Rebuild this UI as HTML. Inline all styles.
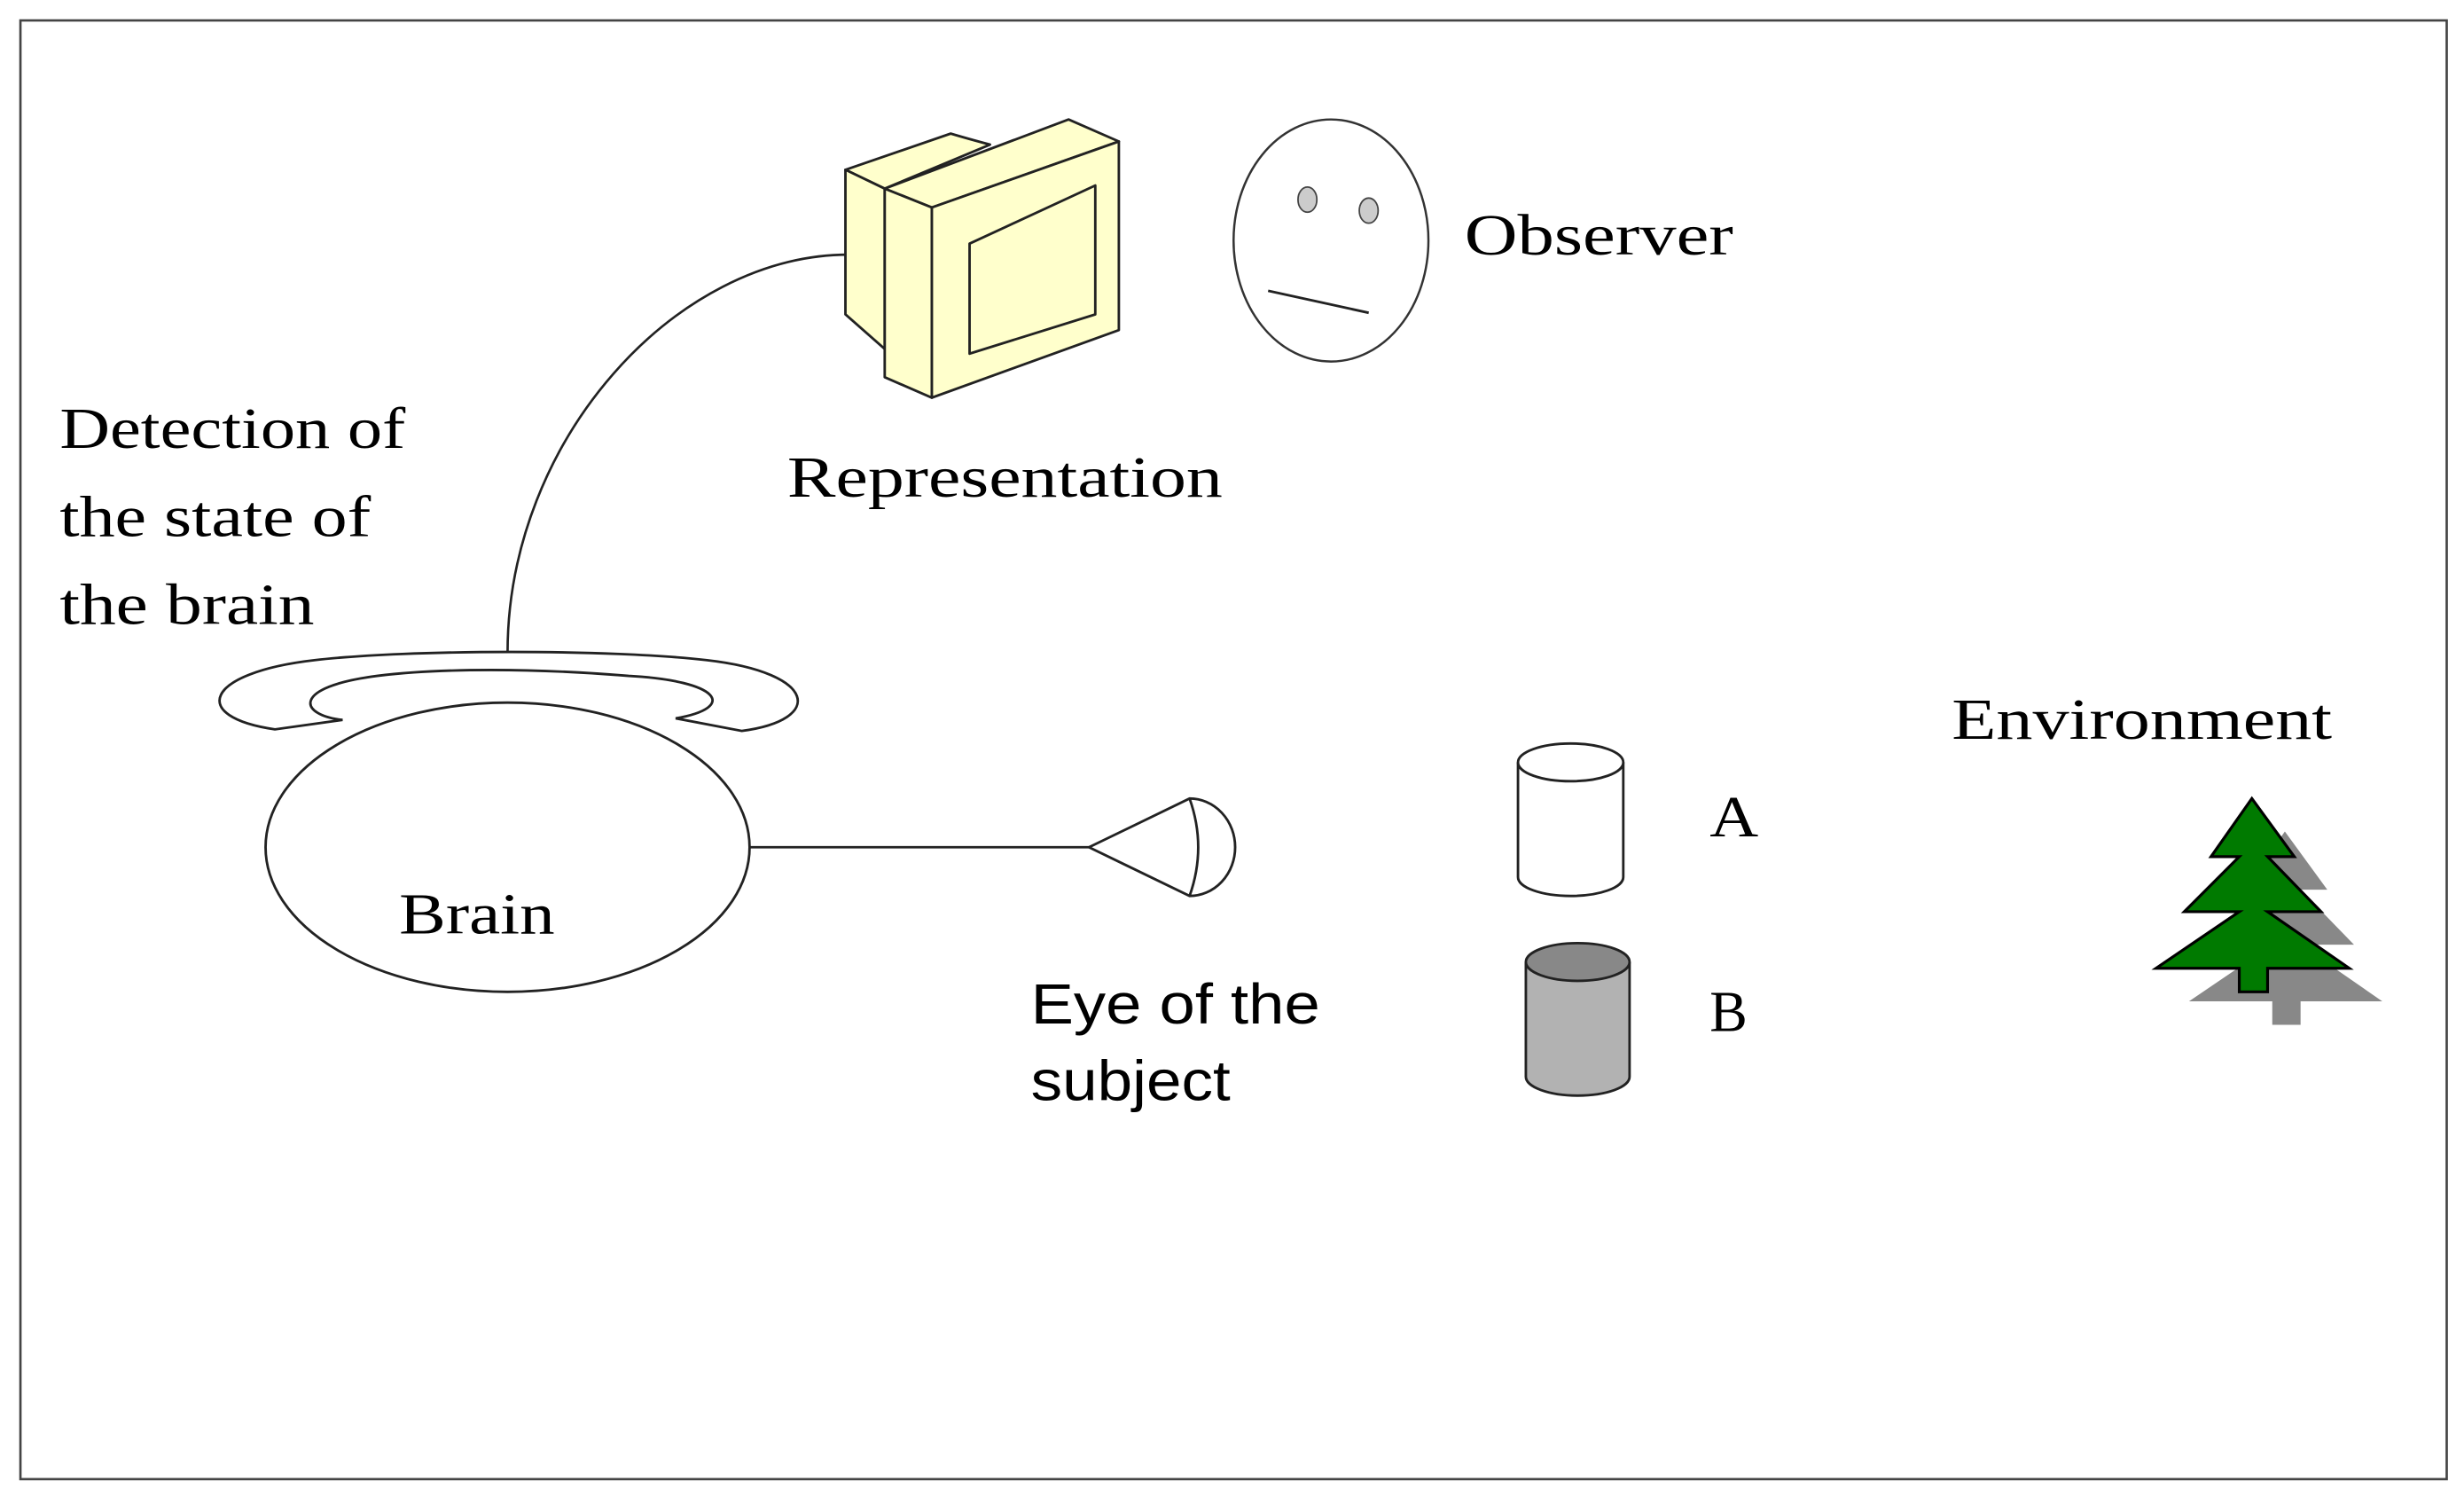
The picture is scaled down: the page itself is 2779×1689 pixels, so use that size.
<!DOCTYPE html>
<html><head><style>html,body{margin:0;padding:0;background:#fff}svg{display:block}</style></head>
<body>
<svg width="2779" height="1689" viewBox="0 0 1568 953" preserveAspectRatio="none" xmlns="http://www.w3.org/2000/svg">
<rect x="0" y="0" width="1568" height="953" fill="#fff"/>
<rect x="13" y="13" width="1544" height="928" fill="none" stroke="#444" stroke-width="1.5"/>
<path d="M323,415 C323,280 430,162 540,162" fill="none" stroke="#222" stroke-width="1.5"/>
<g stroke="#222" stroke-width="1.6" fill="#ffffcc" stroke-linejoin="round">
<path d="M538,108 L605,85 Q615,88 630,92 L563,120 Z"/>
<path d="M538,108 L563,120 L563,222 L538,200 Z"/>
<path d="M563,120 L680,76 L712,90 L593,132 Z"/>
<path d="M563,120 L593,132 L593,253 L563,240 Z"/>
<path d="M593,132 L712,90 L712,210 L593,253 Z"/>
<path d="M617,155 L697,118 L697,200 L617,225 Z"/>
</g>
<ellipse cx="847" cy="153" rx="62" ry="77" fill="#fff" stroke="#333" stroke-width="1.4"/>
<ellipse cx="832" cy="127" rx="6" ry="8" fill="#ccc" stroke="#444" stroke-width="1"/>
<ellipse cx="871" cy="134" rx="6" ry="8" fill="#ccc" stroke="#444" stroke-width="1"/>
<line x1="807" y1="185" x2="871" y2="199" stroke="#222" stroke-width="1.6"/>
<path d="M175,464 C120,456 130,428 200,420 C260,413 390,413 450,420 C520,428 525,458 472,465 L430,457 C470,450 458,433 400,430 C340,425 280,425 240,430 C185,437 190,455 218,458 Z" fill="#fff" stroke="#222" stroke-width="1.6"/>
<ellipse cx="323" cy="539" rx="154" ry="92" fill="#fff" stroke="#222" stroke-width="1.6"/>
<line x1="477" y1="539" x2="693" y2="539" stroke="#222" stroke-width="1.6"/>
<path d="M693,539 L757,508 A29,31 0 0 1 757,570 Z" fill="#fff" stroke="#222" stroke-width="1.6"/>
<path d="M757,508 Q768,539 757,570" fill="none" stroke="#222" stroke-width="1.6"/>
<g stroke="#222" stroke-width="1.6">
<path d="M966,485 L966,558 A33.5,12 0 0 0 1033,558 L1033,485" fill="#fff"/>
<ellipse cx="999.5" cy="485" rx="33.5" ry="12" fill="#fff"/>
<path d="M971,612 L971,685 A33,12 0 0 0 1037,685 L1037,612" fill="#b2b2b2"/>
<ellipse cx="1004" cy="612" rx="33" ry="12" fill="#888"/>
</g>
<g transform="translate(21,21)" fill="#888">
<path d="M1433,508 L1460,545 L1443,545 L1477,580 L1443,580 L1495,616 L1443,616 L1443,631 L1425,631 L1425,616 L1372,616 L1425,580 L1390,580 L1425,545 L1407,545 Z"/>
</g>
<path d="M1433,508 L1460,545 L1443,545 L1477,580 L1443,580 L1495,616 L1443,616 L1443,631 L1425,631 L1425,616 L1372,616 L1425,580 L1390,580 L1425,545 L1407,545 Z" fill="#007a00" stroke="#000" stroke-width="1.8"/>
<g font-family="'Liberation Serif', serif" font-size="37" fill="#000" lengthAdjust="spacingAndGlyphs">
<text x="38" y="285" textLength="220" lengthAdjust="spacingAndGlyphs">Detection of</text>
<text x="38" y="341" textLength="198" lengthAdjust="spacingAndGlyphs">the state of</text>
<text x="38" y="397" textLength="162" lengthAdjust="spacingAndGlyphs">the brain</text>
<text x="501" y="316" textLength="277" lengthAdjust="spacingAndGlyphs">Representation</text>
<text x="932" y="162" textLength="171" lengthAdjust="spacingAndGlyphs">Observer</text>
<text x="1242" y="470" textLength="242" lengthAdjust="spacingAndGlyphs">Environment</text>
<text x="1088" y="532" textLength="31" lengthAdjust="spacingAndGlyphs">A</text>
<text x="1088" y="656" textLength="24" lengthAdjust="spacingAndGlyphs">B</text>
<text x="254" y="594" textLength="99" lengthAdjust="spacingAndGlyphs">Brain</text>
</g>
<g font-family="'Liberation Sans', sans-serif" font-size="36" fill="#000">
<text x="656" y="651" textLength="184" lengthAdjust="spacingAndGlyphs">Eye of the</text>
<text x="656" y="700" textLength="127" lengthAdjust="spacingAndGlyphs">subject</text>
</g>
</svg>
</body></html>
